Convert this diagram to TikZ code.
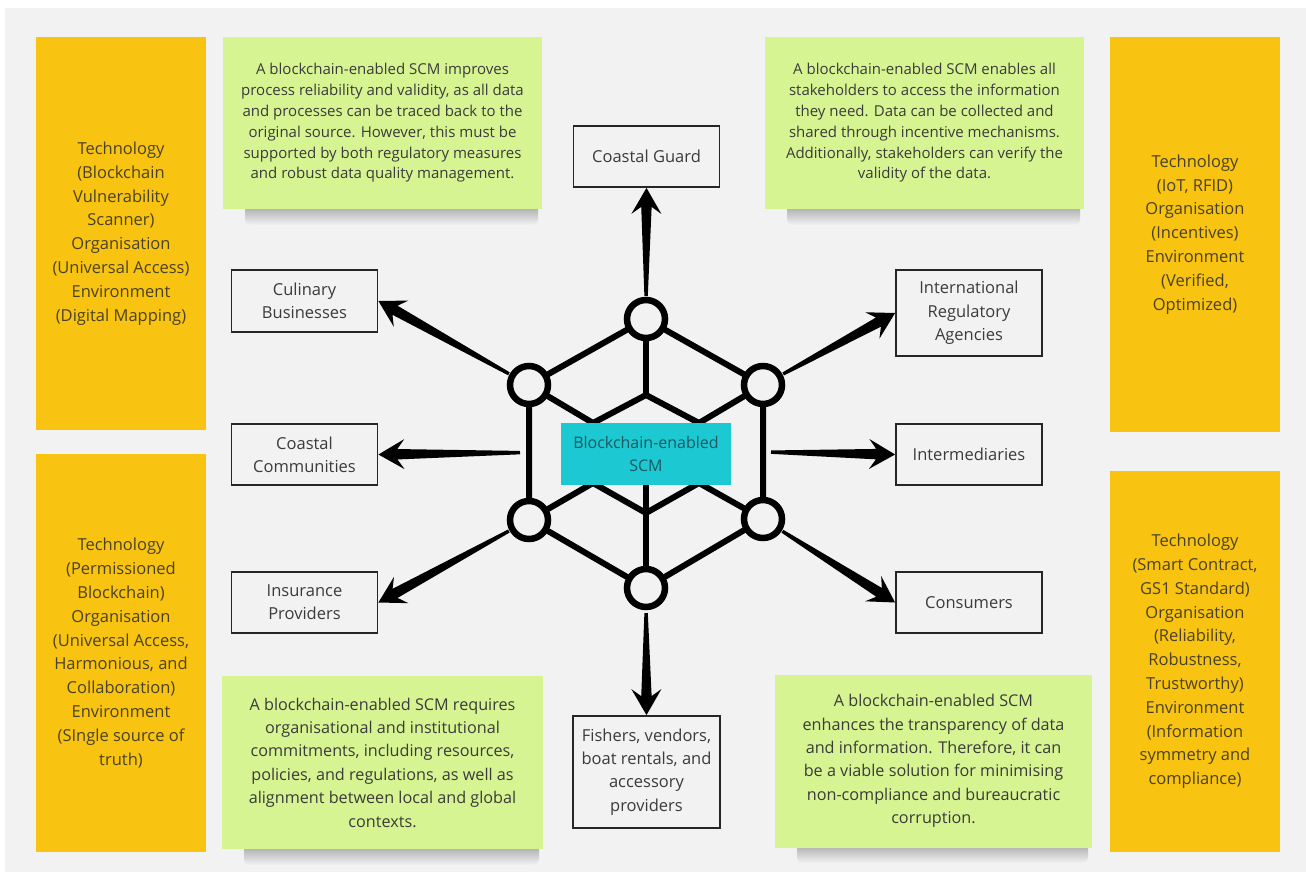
\documentclass[tikz,border=0pt]{standalone}
\usepackage{fontspec}
\setmainfont{Open Sans}
\usetikzlibrary{calc,positioning}

\definecolor{bgcol}{HTML}{F2F2F2}
\definecolor{notecol}{HTML}{D7F493}
\definecolor{factcol}{HTML}{F8C311}
\definecolor{hubcol}{HTML}{1CC8D2}
\definecolor{inkcol}{HTML}{3B3B3B}
\definecolor{factink}{HTML}{4A4226}
\definecolor{hubink}{HTML}{1D5A62}

\tikzset{
  actor/.style={draw=black!85, line width=1.8pt, fill=bgcol, align=center, text=inkcol,
    inner sep=2pt, font=\fontsize{16.5}{23.3}\selectfont},
  note/.style={fill=notecol, align=center, text=inkcol, inner sep=0pt},
  topnote/.style={note, minimum width=319pt, minimum height=172pt, font=\fontsize{15}{20.8}\selectfont},
  lownote/.style={note, minimum height=173pt, font=\fontsize{16.2}{23.4}\selectfont},
  noteshade/.style={top color=black!38, bottom color=bgcol, draw=none, rounded corners=6pt},
  factor/.style={fill=factcol, align=center, text=factink, inner sep=0pt, minimum width=170pt,
    font=\fontsize{16.5}{23.8}\selectfont},
  hubnode/.style={circle, draw, line width=6.5pt, fill=bgcol, minimum size=38pt, inner sep=0pt},
  hubbox/.style={fill=hubcol, text=hubink, align=center, minimum width=170pt, minimum height=62pt,
    inner sep=0pt, font=\fontsize{16}{23}\selectfont},
  link/.style={line width=6pt, line cap=round, line join=round},
  spokefill/.style={fill=black},
}

% tapered arrow: [gap from start]{start node}{tip}
\newcommand{\spoke}[3][23pt]{%
  \coordinate (sa) at ($(#2)!#1!(#3)$);
  \coordinate (sb) at (#3);
  \coordinate (sh) at ($(sb)!19pt!(sa)$);
  \coordinate (sk) at ($(sb)!26pt!(sa)$);
  \fill[spokefill] ($(sa)!1.7pt!90:(sb)$) -- ($(sh)!5.2pt!90:(sb)$) -- ($(sk)!15pt!90:(sb)$)
    -- (sb) -- ($(sk)!15pt!-90:(sb)$) -- ($(sh)!5.2pt!-90:(sb)$) -- ($(sa)!1.7pt!-90:(sb)$) -- cycle;
}

\begin{document}
\begin{tikzpicture}[x=1pt, y=-1pt]
  \useasboundingbox (0,0) rectangle (1306,872);
  \fill[white] (0,0) rectangle (1306,872);
  \fill[bgcol] (5,8) rectangle (1306,872);

  % === Yellow factor columns ===
  \node[factor, minimum height=393pt] (fTL) at (121,233.5)
    {Technology\\(Blockchain\\Vulnerability\\Scanner)\\Organisation\\(Universal Access)\\Environment\\(Digital Mapping)};
  \node[factor, minimum height=398pt] (fBL) at (121,653)
    {Technology\\(Permissioned\\Blockchain)\\Organisation\\(Universal Access,\\Harmonious, and\\Collaboration)\\Environment\\(SIngle source of\\truth)};
  \node[factor, minimum height=395pt] (fTR) at (1195,234.5)
    {Technology\\(IoT, RFID)\\Organisation\\(Incentives)\\Environment\\(Verified,\\Optimized)};
  \node[factor, minimum height=381pt] (fBR) at (1195,661.5)
    {Technology\\(Smart Contract,\\GS1 Standard)\\Organisation\\(Reliability,\\Robustness,\\Trustworthy)\\Environment\\(Information\\symmetry and\\compliance)};

  % === Green notes ===
  \foreach \x/\y/\w in {382.5/209/319, 924.5/209/319, 382.5/849/321, 933.5/847/317}{
    \shade[noteshade] (\x-\w/2+22,\y-6) rectangle (\x+\w/2-4,\y+16);
  }
  \node[topnote] (nTL) at (382.5,123)
    {A blockchain-enabled SCM improves\\process reliability and validity, as all data\\and processes can be traced back to the\\original source. However, this must be\\supported by both regulatory measures\\and robust data quality management.};
  \node[topnote] (nTR) at (924.5,123)
    {A blockchain-enabled SCM enables all\\stakeholders to access the information\\they need. Data can be collected and\\shared through incentive mechanisms.\\Additionally, stakeholders can verify the\\validity of the data.};
  \node[lownote, minimum width=321pt] (nBL) at (382.5,762.5)
    {A blockchain-enabled SCM requires\\organisational and institutional\\commitments, including resources,\\policies, and regulations, as well as\\alignment between local and global\\contexts.};
  \node[lownote, minimum width=317pt] (nBR) at (933.5,761)
    {A blockchain-enabled SCM\\enhances the transparency of data\\and information. Therefore, it can\\be a viable solution for minimising\\non-compliance and bureaucratic\\corruption.};

  % === Stakeholders ===
  \node[actor, minimum width=146pt, minimum height=61pt] (guard) at (646.5,156.5) {Coastal Guard};
  \node[actor, minimum width=146pt, minimum height=62pt] (culi)  at (304.5,301) {Culinary\\Businesses};
  \node[actor, minimum width=146pt, minimum height=61pt] (comm)  at (304.5,454.5) {Coastal\\Communities};
  \node[actor, minimum width=146pt, minimum height=61pt] (insu)  at (304.5,602.5) {Insurance\\Providers};
  \node[actor, minimum width=146pt, minimum height=86pt] (intl)  at (969,313) {International\\Regulatory\\Agencies};
  \node[actor, minimum width=146pt, minimum height=61pt] (inter) at (969,454.5) {Intermediaries};
  \node[actor, minimum width=146pt, minimum height=61pt] (cons)  at (969,602.5) {Consumers};
  \node[actor, minimum width=147pt, minimum height=112pt] (fish) at (646.5,772)
    {Fishers, vendors,\\boat rentals, and\\accessory\\providers};

  % === Blockchain cube ===
  \foreach \n/\x/\y in {T/646/319, UL/529/385, UR/763/385, LL/529/520, LR/763/519, Bo/646/588}{
    \node[hubnode] (\n) at (\x,\y) {};
  }
  \coordinate (A)  at (646,395);
  \coordinate (P1) at (593,423);
  \coordinate (P2) at (699,423);
  \coordinate (P3) at (593,483);
  \coordinate (P4) at (699,483);
  \coordinate (B)  at (646,513);
  \coordinate (Cm) at (646,454);

  % outer hexagon
  \draw[link] (T) -- (UL) -- (LL) -- (Bo) -- (LR) -- (UR) -- (T);
  % inner edges
  \draw[link] (T) -- (A);
  \draw[link] (UL) -- (P1) -- (A) -- (P2) -- (UR);
  \draw[link] (P1) -- (P3);
  \draw[link] (P2) -- (P4);
  \draw[link] (LL) -- (P3) -- (B) -- (P4) -- (LR);
  \draw[link] (Bo) -- (Cm);

  \node[hubbox] (hub) at (Cm) {Blockchain-enabled\\SCM};

  % === Spokes ===
  \coordinate (mL) at ($(UL)!0.5!(LL)$);
  \coordinate (mR) at ($(UR)!0.5!(LR)$);
  \spoke{T}{guard.south}
  \spoke{UL}{culi.east}
  \spoke[9pt]{mL}{comm.east}
  \spoke{LL}{insu.east}
  \spoke{UR}{intl.west}
  \spoke[8pt]{mR}{inter.west}
  \spoke{LR}{cons.west}
  \spoke[25pt]{Bo}{fish.north}
\end{tikzpicture}
\end{document}
